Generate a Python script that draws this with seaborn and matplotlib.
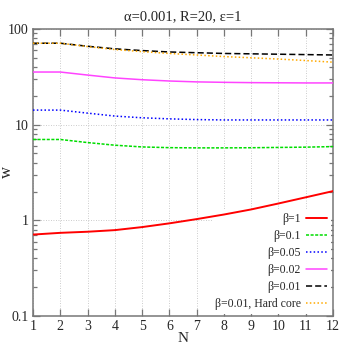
import numpy as np
import pandas as pd
import matplotlib
matplotlib.use("Agg")
import matplotlib.pyplot as plt
import seaborn as sns
from matplotlib.ticker import LogLocator, FixedLocator, NullFormatter

N = [1, 2, 3, 4, 5, 6, 7, 8, 9, 10, 11, 12]

w_b1 = [0.71, 0.74, 0.76, 0.79, 0.85, 0.93, 1.03, 1.15, 1.30, 1.50, 1.74, 2.02]
w_b01 = [7.0, 7.0, 6.5, 6.1, 5.85, 5.75, 5.72, 5.72, 5.74, 5.78, 5.82, 5.9]
w_b005 = [14.2, 14.2, 13.2, 12.3, 11.8, 11.5, 11.3, 11.2, 11.2, 11.2, 11.2, 11.2]
w_b002 = [35.5, 35.5, 33.0, 30.8, 29.5, 28.6, 28.0, 27.7, 27.5, 27.4, 27.3, 27.3]
w_b001 = [71, 71, 66, 62, 59.5, 57.5, 56.5, 55.5, 55, 54.5, 54, 53.5]
w_hard = [71, 71, 65.5, 61, 58, 55.5, 53.5, 51.5, 50, 48.5, 46.8, 45]

labels = ["β=1", "β=0.1", "β=0.05", "β=0.02", "β=0.01", "β=0.01, Hard core"]
series = [w_b1, w_b01, w_b005, w_b002, w_b001, w_hard]
colors = ["#ff0000", "#00dd00", "#0000ff", "#ff44ff", "#000000", "#ffaa00"]
dashes = [None, (2, 1), (1, 1.5), None, (4, 2), (1, 1.5)]

df = pd.concat([pd.DataFrame({"N": N, "w": s, "series": lab})
                for s, lab in zip(series, labels)], ignore_index=True)

sns.set_style("ticks")
plt.rcParams["font.family"] = ["Liberation Serif", "DejaVu Serif"]

fig = plt.figure(figsize=(3.46, 3.46), dpi=100)
ax = fig.add_axes([0.0954, 0.0867, 0.867, 0.8295])

for lab, col, d in zip(labels, colors, dashes):
    sub = df[df["series"] == lab]
    lw = 1.4 if lab == "β=1" else 1.1
    sns.lineplot(data=sub, x="N", y="w", ax=ax, color=col, linewidth=lw,
                 label=lab, estimator=None, zorder=3)
    if d is not None:
        ax.lines[-1].set_dashes(d)

ax.set_yscale("log")
ax.set_ylim(0.1, 100)
ax.set_xlim(1, 12)
ax.xaxis.set_major_locator(FixedLocator(N))
ax.yaxis.set_major_locator(FixedLocator([0.1, 1, 10, 100]))
ax.set_yticklabels(["0.1", "1", "10", "100"])
ax.yaxis.set_minor_locator(LogLocator(base=10, subs=np.arange(2, 10)))
ax.yaxis.set_minor_formatter(NullFormatter())

ax.grid(True, which="major", color="#bbbbbb", linestyle=(0, (1, 2)), linewidth=0.6)
ax.set_axisbelow(True)

ax.tick_params(which="both", direction="in", top=True, right=True, labelsize=10,
               width=0.9, color="#777777", pad=3)
ax.tick_params(which="major", length=5)
ax.tick_params(which="minor", length=3)
for sp in ax.spines.values():
    sp.set_linewidth(1.1)
    sp.set_color("#777777")

ax.set_xlabel("N", fontsize=11, labelpad=-1)
ax.set_ylabel("w", fontsize=12)
ax.yaxis.set_label_coords(-0.06, 0.5)
ax.set_title("α=0.001, R=20, ε=1", fontsize=10.5, pad=6)

leg = ax.legend(loc="lower right", markerfirst=False, frameon=True, fontsize=8.5,
                handlelength=1.8, handletextpad=0.4, labelspacing=0.42,
                borderaxespad=0.2, borderpad=0.3, fancybox=False)
leg.get_frame().set_edgecolor("none")
leg.get_frame().set_facecolor("white")
leg.get_frame().set_alpha(1)
leg.set_zorder(2)
for t in leg.get_texts():
    t.set_ha("right")

fig.savefig("out.png", dpi=100)
